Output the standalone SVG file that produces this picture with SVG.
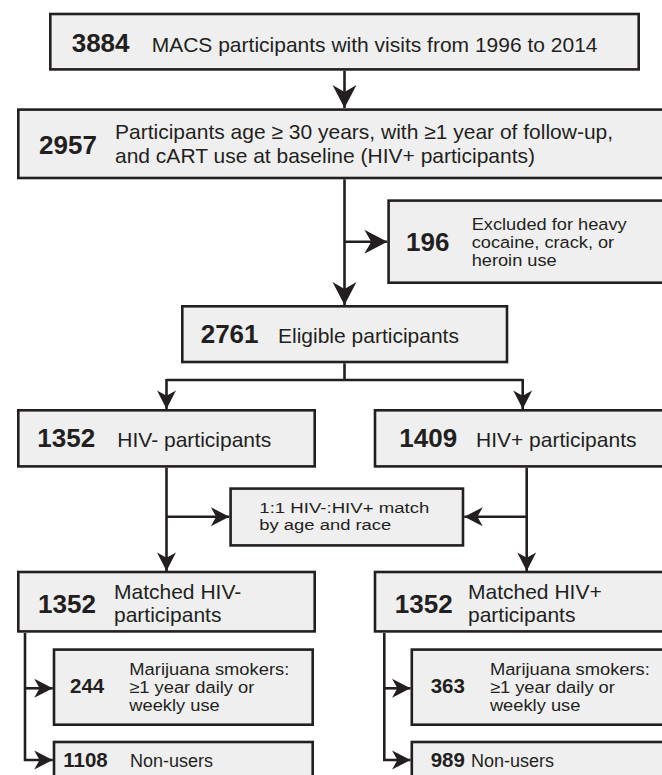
<svg xmlns="http://www.w3.org/2000/svg" width="662" height="775" viewBox="0 0 662 775">
<style>
.box{fill:#efefef;stroke:#231f20;stroke-width:2.6}
.ln{fill:none;stroke:#231f20;stroke-width:2.6}
text{font-family:"Liberation Sans",Arial,sans-serif;fill:#231f20}
.num{font-weight:bold;font-size:26px}
.nums{font-weight:bold;font-size:20.5px}
.t{font-size:21px}
.s{font-size:18px}
.m{font-size:16.8px}
.mm{font-size:15.5px}
</style>
<defs>
<marker id="big" markerUnits="userSpaceOnUse" markerWidth="24" markerHeight="26" viewBox="-23 -12.5 24 25" refX="0" refY="0" orient="auto">
<path d="M0,0 L-23,-12 L-16,0 L-23,12 Z" fill="#231f20"/>
</marker>
<marker id="sm" markerUnits="userSpaceOnUse" markerWidth="20" markerHeight="20" viewBox="-18 -9.5 19 19" refX="0" refY="0" orient="auto">
<path d="M0,0 L-17.5,-9 L-12.5,0 L-17.5,9 Z" fill="#231f20"/>
</marker>
</defs>
<g id="connectors">
<path class="ln" d="M344.5,70.7 V108" marker-end="url(#big)"/>
<path class="ln" d="M344.5,179.3 V305" marker-end="url(#big)"/>
<path class="ln" d="M344.5,241.7 H387.3" marker-end="url(#big)"/>
<path class="ln" d="M344.5,363.3 V380"/>
<path class="ln" d="M166.5,380 H522.7"/>
<path class="ln" d="M166.5,379 V409" marker-end="url(#sm)"/>
<path class="ln" d="M522.7,379 V409" marker-end="url(#sm)"/>
<path class="ln" d="M166.5,467.7 V571" marker-end="url(#sm)"/>
<path class="ln" d="M166.5,516.7 H229.3" marker-end="url(#sm)"/>
<path class="ln" d="M526.7,467.7 V571" marker-end="url(#sm)"/>
<path class="ln" d="M526.7,516.7 H464.3" marker-end="url(#sm)"/>
<path class="ln" d="M25,633 V760 H52.7" marker-end="url(#sm)"/>
<path class="ln" d="M25,688.3 H52.7" marker-end="url(#sm)"/>
<path class="ln" d="M384.3,633 V760 H410.5" marker-end="url(#sm)"/>
<path class="ln" d="M384.3,688.3 H410.5" marker-end="url(#sm)"/>
</g>
<g id="n3884">
<rect class="box" x="50.3" y="14" width="588.4" height="55.4"/>
<text class="num" x="71.7" y="52">3884</text>
<text class="t" x="151.7" y="52">MACS participants with visits from 1996 to 2014</text>
</g>
<g id="n2957">
<rect class="box" x="18.3" y="109.6" width="700" height="68.4"/>
<text class="num" x="39" y="154">2957</text>
<text class="t" x="115" y="139.3">Participants age ≥ 30 years, with ≥1 year of follow-up,<tspan x="115" dy="23.4">and cART use at baseline (HIV+ participants)</tspan></text>
</g>
<g id="n196">
<rect class="box" x="388.6" y="200.6" width="300" height="82.1"/>
<text class="num" x="406" y="251">196</text>
<text class="m" x="471.7" y="230" textLength="155" lengthAdjust="spacingAndGlyphs">Excluded for heavy</text>
<text class="m" x="471.7" y="248" textLength="142.5" lengthAdjust="spacingAndGlyphs">cocaine, crack, or</text>
<text class="m" x="471.7" y="266" textLength="85" lengthAdjust="spacingAndGlyphs">heroin use</text>
</g>
<g id="n2761">
<rect class="box" x="182.3" y="306.3" width="324.7" height="55.7"/>
<text class="num" x="200.7" y="343.3">2761</text>
<text class="t" x="278" y="343.3">Eligible participants</text>
</g>
<g id="n1352neg">
<rect class="box" x="18.3" y="410.3" width="296.4" height="56.1"/>
<text class="num" x="37.3" y="446.7">1352</text>
<text class="t" x="117.3" y="446.7">HIV- participants</text>
</g>
<g id="n1409">
<rect class="box" x="375" y="410.3" width="320" height="56.1"/>
<text class="num" x="399.3" y="446.7">1409</text>
<text class="t" x="476" y="446.7">HIV+ participants</text>
</g>
<g id="nmatch">
<rect class="box" x="230.6" y="488.6" width="232.4" height="56.8"/>
<text class="mm" x="259.3" y="513.3" textLength="170" lengthAdjust="spacingAndGlyphs">1:1 HIV-:HIV+ match</text>
<text class="mm" x="259.3" y="530.3" textLength="132" lengthAdjust="spacingAndGlyphs">by age and race</text>
</g>
<g id="nmatchneg">
<rect class="box" x="18.3" y="572" width="296.4" height="59.4"/>
<text class="num" x="38" y="613">1352</text>
<text class="t" x="114" y="599.3">Matched HIV-<tspan x="114" dy="22.4">participants</tspan></text>
</g>
<g id="nmatchpos">
<rect class="box" x="375" y="572" width="320" height="59.4"/>
<text class="num" x="394.8" y="613">1352</text>
<text class="t" x="468" y="599.3">Matched HIV+<tspan x="468" dy="22.4">participants</tspan></text>
</g>
<g id="n244">
<rect class="box" x="54" y="649.6" width="258.7" height="75.1"/>
<text class="nums" x="70" y="693.3">244</text>
<text class="m" x="129.3" y="674.7" textLength="160" lengthAdjust="spacingAndGlyphs">Marijuana smokers:</text>
<text class="m" x="129.3" y="692.6" textLength="125" lengthAdjust="spacingAndGlyphs">≥1 year daily or</text>
<text class="m" x="129.3" y="710.5" textLength="90.5" lengthAdjust="spacingAndGlyphs">weekly use</text>
</g>
<g id="n363">
<rect class="box" x="411.8" y="649.6" width="300" height="75.1"/>
<text class="nums" x="430.7" y="693.3">363</text>
<text class="m" x="489.9" y="674.7" textLength="160" lengthAdjust="spacingAndGlyphs">Marijuana smokers:</text>
<text class="m" x="489.9" y="692.6" textLength="125" lengthAdjust="spacingAndGlyphs">≥1 year daily or</text>
<text class="m" x="489.9" y="710.5" textLength="90.5" lengthAdjust="spacingAndGlyphs">weekly use</text>
</g>
<g id="n1108">
<rect class="box" x="54" y="742" width="258.7" height="60"/>
<text class="nums" x="63.3" y="766.7">1108</text>
<text class="s" x="130" y="766.7">Non-users</text>
</g>
<g id="n989">
<rect class="box" x="411.8" y="742" width="300" height="60"/>
<text class="nums" x="430.7" y="766.7">989</text>
<text class="s" x="470.9" y="766.7">Non-users</text>
</g>
</svg>
